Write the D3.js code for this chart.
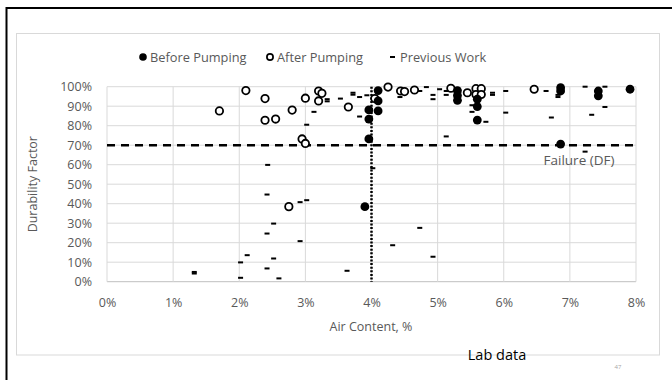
<!DOCTYPE html>
<html><head><meta charset="utf-8">
<script src="https://cdn.jsdelivr.net/npm/d3@7"></script>
<style>
html,body{margin:0;padding:0;background:#fff;}
svg{display:block;}
text{font-family:"Open Sans",sans-serif;}
</style></head>
<body>
<svg id="c" width="672" height="380"></svg>
<script>
// ---- data ----
const xTicks = [0,1,2,3,4,5,6,7,8];
const yTicks = [0,10,20,30,40,50,60,70,80,90,100];
const failureDF = 70;
const failureAir = 4;

const beforeX = [3.90,3.96,3.96,3.96,4.10,4.10,4.10,5.30,5.30,5.30,5.60,5.60,5.60,6.86,6.86,6.86,7.43,7.43,7.91];
const beforeY = [38.5,73.2,83.4,88.1,87.6,92.7,98.0,93.0,95.5,98.0,82.9,89.8,93.6,70.6,97.8,99.5,95.3,97.8,98.7];

const afterX = [1.70,2.10,2.39,2.39,2.55,2.75,2.80,2.95,3.00,3.00,3.20,3.25,3.20,3.65,4.05,4.25,4.44,4.50,4.65,5.20,5.45,5.58,5.58,5.66,5.66,6.46];
const afterY = [87.6,98.0,93.9,82.8,83.4,38.5,88.0,73.2,70.9,94.1,97.8,96.6,92.7,89.6,93.9,99.8,97.8,97.5,98.3,99.2,96.9,99.0,96.0,99.0,96.0,98.7];

const prevX = [1.32,1.32,2.02,2.02,2.12,2.42,2.42,2.42,2.43,2.52,2.52,2.60,2.92,2.92,3.02,3.02,3.13,3.33,3.33,3.53,3.63,3.72,3.72,3.82,3.82,3.93,4.02,4.32,4.43,4.73,4.73,4.83,4.93,4.93,4.93,5.03,5.13,5.13,5.13,5.52,5.52,5.73,5.83,5.83,6.03,6.03,6.64,6.72,6.82,6.82,7.23,7.53,7.53,7.33,7.23];
const prevY = [4.2,5.0,2.0,9.9,13.6,6.8,24.7,44.7,59.9,11.9,29.8,1.7,20.8,40.8,41.8,80.5,87.1,93.6,92.5,93.9,5.6,96.9,95.9,94.7,84.7,95.6,58.2,18.7,94.7,27.6,97.8,99.8,12.8,95.8,93.6,98.7,97.8,95.8,74.5,90.5,87.1,82.0,96.9,95.8,97.8,86.7,97.8,84.2,95.8,94.7,100,100,89.6,85.6,66.7];

const legendLabels = ["Before Pumping","After Pumping","Previous Work"];

// ---- drawing ----
const svg = d3.select("#c");
const L = 107, R = 636, T = 86.7, B = 281.7;
const x = d3.scaleLinear().domain([0,8]).range([L,R]);
const y = d3.scaleLinear().domain([0,100]).range([B,T]);
const grey = "#595959";

// slide frame
svg.append("line").attr("x1",6.5).attr("x2",6.5).attr("y1",7).attr("y2",380).attr("stroke","#000").attr("stroke-width",2);
svg.append("line").attr("x1",6).attr("x2",672).attr("y1",8).attr("y2",8).attr("stroke","#000").attr("stroke-width",2);
// chart area border
svg.append("rect").attr("x",16.5).attr("y",33.5).attr("width",643).attr("height",321.5)
  .attr("fill","none").attr("stroke","#d9d9d9").attr("stroke-width",1);

// gridlines
const g = svg.append("g");
g.selectAll(".hg").data(yTicks).join("line")
  .attr("x1",L).attr("x2",R).attr("y1",d=>y(d)).attr("y2",d=>y(d))
  .attr("stroke",d=>d===0?"#bfbfbf":"#d9d9d9").attr("stroke-width",1);
g.selectAll(".vg").data(xTicks).join("line")
  .attr("y1",T).attr("y2",B).attr("x1",d=>x(d)).attr("x2",d=>x(d))
  .attr("stroke","#d9d9d9").attr("stroke-width",1);

// axes
const ya = svg.append("g").attr("transform",`translate(${L},0)`)
  .call(d3.axisLeft(y).tickValues(yTicks).tickSize(0).tickPadding(15).tickFormat(d=>d+"%"));
ya.select(".domain").remove();
ya.selectAll("text").attr("fill",grey).style("font-size","12.5px").style("font-family","'Open Sans',sans-serif");

const xa = svg.append("g").attr("transform",`translate(0,${B})`)
  .call(d3.axisBottom(x).tickValues(xTicks).tickSize(0).tickPadding(16).tickFormat(d=>d+"%"));
xa.select(".domain").remove();
xa.selectAll("text").attr("fill",grey).style("font-size","12.5px").style("font-family","'Open Sans',sans-serif");

// axis titles
svg.append("text").attr("x",371).attr("y",331).attr("text-anchor","middle")
  .attr("fill",grey).style("font-size","12.5px").text("Air Content, %");
svg.append("text").attr("transform",`translate(37,${(T+B)/2}) rotate(-90)`).attr("text-anchor","middle")
  .attr("fill",grey).style("font-size","12.5px").text("Durability Factor");

// reference lines
svg.append("line").attr("x1",x(0)).attr("x2",x(8)).attr("y1",y(failureDF)).attr("y2",y(failureDF))
  .attr("stroke","#000").attr("stroke-width",2.5).attr("stroke-dasharray","8,6");
svg.append("line").attr("x1",x(failureAir)).attr("x2",x(failureAir)).attr("y1",y(100)).attr("y2",y(0))
  .attr("stroke","#000").attr("stroke-width",2.5).attr("stroke-dasharray","2,1.6");

// previous work dashes
const prev = prevX.map((v,i)=>[v,prevY[i]]);
svg.append("g").selectAll("rect").data(prev).join("rect")
  .attr("x",d=>x(d[0])-2.5).attr("y",d=>y(d[1])-1).attr("width",5).attr("height",2).attr("fill","#000");

// after pumping (open)
const after = afterX.map((v,i)=>[v,afterY[i]]);
svg.append("g").selectAll("circle").data(after).join("circle")
  .attr("cx",d=>x(d[0])).attr("cy",d=>y(d[1])).attr("r",3.7)
  .attr("fill","#fff").attr("stroke","#000").attr("stroke-width",1.8);

// before pumping (filled)
const before = beforeX.map((v,i)=>[v,beforeY[i]]);
svg.append("g").selectAll("circle").data(before).join("circle")
  .attr("cx",d=>x(d[0])).attr("cy",d=>y(d[1])).attr("r",4.4).attr("fill","#000");

// failure label
svg.append("text").attr("x",579).attr("y",165).attr("text-anchor","middle")
  .attr("fill",grey).style("font-size","13.5px").text("Failure (DF)");

// legend
const lg = svg.append("g").attr("transform","translate(0,57)");
lg.append("circle").attr("cx",143).attr("cy",0).attr("r",3.8).attr("fill","#000");
lg.append("circle").attr("cx",270).attr("cy",0).attr("r",3.1).attr("fill","#fff").attr("stroke","#000").attr("stroke-width",1.7);
lg.append("rect").attr("x",390).attr("y",-1).attr("width",5).attr("height",2).attr("fill","#000");
const lx = [150,277,400];
lg.selectAll("text").data(legendLabels).join("text")
  .attr("x",(d,i)=>lx[i]).attr("y",4.5).attr("fill",grey).style("font-size","12.8px").text(d=>d);

// slide texts
svg.append("text").attr("x",497).attr("y",360).attr("text-anchor","middle")
  .attr("fill","#000").style("font-size","14.5px").text("Lab data");
svg.append("text").attr("x",618).attr("y",369).attr("text-anchor","middle")
  .attr("fill","#a6a6a6").style("font-size","6px").text("47");
</script>
</body></html>
